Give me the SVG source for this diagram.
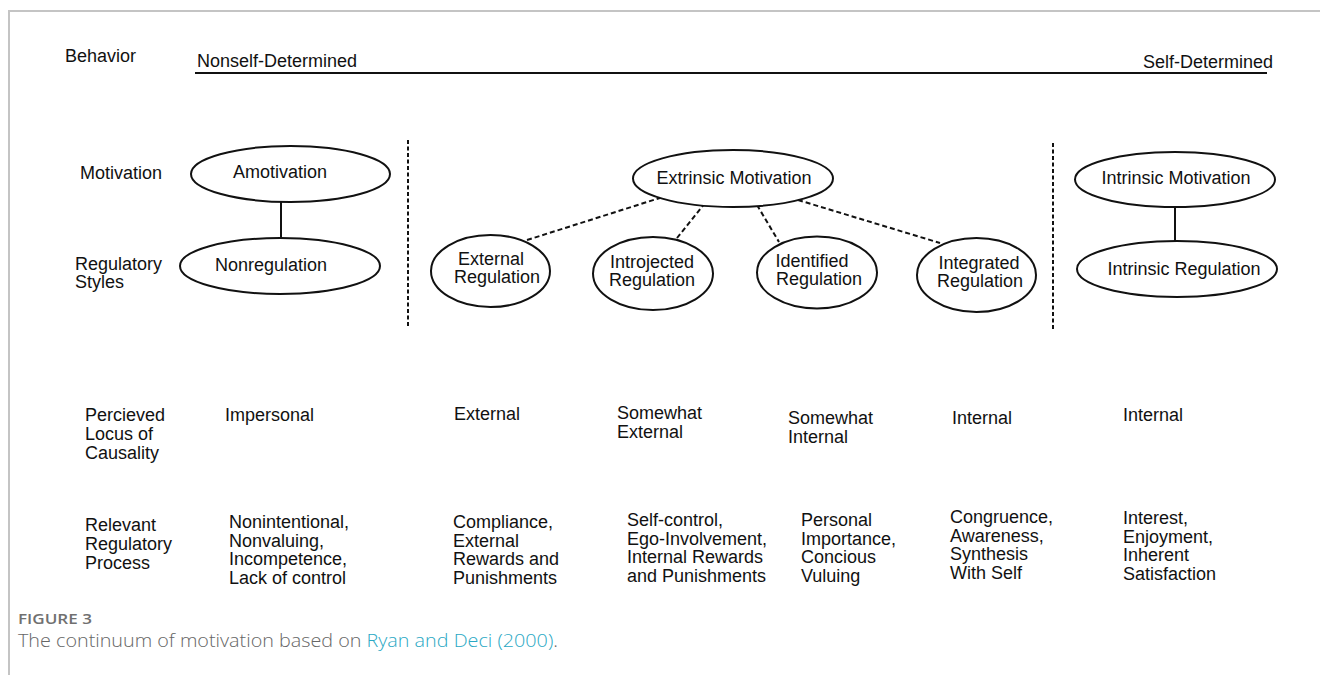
<svg xmlns="http://www.w3.org/2000/svg" width="1320" height="675" viewBox="0 0 1320 675">
<style>
.t{font-family:"Liberation Sans",Arial,sans-serif;font-size:18px;fill:#111}
.c{text-anchor:middle}
.node{fill:#fff;stroke:#111;stroke-width:2}
.solid{stroke:#111;stroke-width:2;fill:none}
.dash{stroke:#111;stroke-width:2;stroke-dasharray:5 3;fill:none}
.vdash{stroke:#111;stroke-width:2;stroke-dasharray:4 2.5;fill:none}
.cap{font-family:"Open Sans",Lato,sans-serif}
</style>
<rect width="1320" height="675" fill="#fff"/>
<path d="M9 675V11H1320" fill="none" stroke="#c4c4c4" stroke-width="2"/>

<g id="axis">
<text class="t" x="65" y="62">Behavior</text>
<text class="t" x="197" y="67">Nonself-Determined</text>
<text class="t" x="1273" y="68" text-anchor="end">Self-Determined</text>
<line class="solid" x1="195" y1="73" x2="1267" y2="73"/>
</g>

<g id="row-labels">
<text class="t" x="80" y="179">Motivation</text>
<text class="t" x="75" y="270">Regulatory<tspan x="75" dy="18">Styles</tspan></text>
<text class="t" x="85" y="421">Percieved<tspan x="85" dy="19">Locus of</tspan><tspan x="85" dy="19">Causality</tspan></text>
<text class="t" x="85" y="531">Relevant<tspan x="85" dy="19">Regulatory</tspan><tspan x="85" dy="19">Process</tspan></text>
</g>

<g id="separators">
<line class="vdash" x1="408" y1="140" x2="408" y2="326"/>
<line class="vdash" x1="1053" y1="143" x2="1053" y2="331"/>
</g>

<g id="connectors">
<line class="solid" x1="281" y1="202" x2="281" y2="238"/>
<line class="solid" x1="1175" y1="207" x2="1175" y2="241"/>
<line class="dash" x1="527" y1="240" x2="663" y2="197"/>
<line class="dash" x1="677" y1="238" x2="705" y2="203"/>
<line class="dash" x1="757" y1="205" x2="779" y2="242"/>
<line class="dash" x1="798" y1="200" x2="940" y2="243"/>
</g>

<g id="amotivation">
<ellipse class="node" cx="290.5" cy="174" rx="99.5" ry="28"/>
<text class="t c" x="280" y="178">Amotivation</text>
</g>
<g id="nonregulation">
<ellipse class="node" cx="280" cy="266" rx="100" ry="28"/>
<text class="t c" x="271" y="271">Nonregulation</text>
</g>
<g id="extrinsic-motivation">
<ellipse class="node" cx="733" cy="178.5" rx="100" ry="28.5"/>
<text class="t c" x="734" y="184">Extrinsic Motivation</text>
</g>
<g id="external-regulation">
<ellipse class="node" cx="490.5" cy="271" rx="59.5" ry="36"/>
<text class="t c" x="491" y="265">External<tspan x="497" dy="18">Regulation</tspan></text>
</g>
<g id="introjected-regulation">
<ellipse class="node" cx="653" cy="273.5" rx="60" ry="36.5"/>
<text class="t c" x="652" y="268">Introjected<tspan x="652" dy="18">Regulation</tspan></text>
</g>
<g id="identified-regulation">
<ellipse class="node" cx="817" cy="272.5" rx="60" ry="36"/>
<text class="t c" x="812" y="267">Identified<tspan x="819" dy="18">Regulation</tspan></text>
</g>
<g id="integrated-regulation">
<ellipse class="node" cx="976.5" cy="275" rx="59.5" ry="37"/>
<text class="t c" x="979" y="269">Integrated<tspan x="980" dy="18">Regulation</tspan></text>
</g>
<g id="intrinsic-motivation">
<ellipse class="node" cx="1175" cy="179.5" rx="100" ry="27.5"/>
<text class="t c" x="1176" y="184">Intrinsic Motivation</text>
</g>
<g id="intrinsic-regulation">
<ellipse class="node" cx="1177" cy="269" rx="100" ry="28"/>
<text class="t c" x="1184" y="275">Intrinsic Regulation</text>
</g>

<g id="locus">
<text class="t" x="225" y="421">Impersonal</text>
<text class="t" x="454" y="420">External</text>
<text class="t" x="617" y="419">Somewhat<tspan x="617" dy="19">External</tspan></text>
<text class="t" x="788" y="424">Somewhat<tspan x="788" dy="19">Internal</tspan></text>
<text class="t" x="952" y="424">Internal</text>
<text class="t" x="1123" y="421">Internal</text>
</g>

<g id="process">
<text class="t" x="229" y="528">Nonintentional,<tspan x="229" dy="18.7">Nonvaluing,</tspan><tspan x="229" dy="18.7">Incompetence,</tspan><tspan x="229" dy="18.7">Lack of control</tspan></text>
<text class="t" x="453" y="528">Compliance,<tspan x="453" dy="18.7">External</tspan><tspan x="453" dy="18.7">Rewards and</tspan><tspan x="453" dy="18.7">Punishments</tspan></text>
<text class="t" x="627" y="526">Self-control,<tspan x="627" dy="18.7">Ego-Involvement,</tspan><tspan x="627" dy="18.7">Internal Rewards</tspan><tspan x="627" dy="18.7">and Punishments</tspan></text>
<text class="t" x="801" y="526">Personal<tspan x="801" dy="18.7">Importance,</tspan><tspan x="801" dy="18.7">Concious</tspan><tspan x="801" dy="18.7">Vuluing</tspan></text>
<text class="t" x="950" y="523">Congruence,<tspan x="950" dy="18.7">Awareness,</tspan><tspan x="950" dy="18.7">Synthesis</tspan><tspan x="950" dy="18.7">With Self</tspan></text>
<text class="t" x="1123" y="524">Interest,<tspan x="1123" dy="18.7">Enjoyment,</tspan><tspan x="1123" dy="18.7">Inherent</tspan><tspan x="1123" dy="18.7">Satisfaction</tspan></text>
</g>

<g id="caption">
<text class="cap" x="18" y="624" font-size="14" font-weight="600" fill="#707070" textLength="74" lengthAdjust="spacingAndGlyphs">FIGURE 3</text>
<text class="cap" x="18" y="647" font-size="18" font-weight="300" fill="#666" textLength="540" lengthAdjust="spacingAndGlyphs">The continuum of motivation based on <tspan fill="#2aa8c4">Ryan and Deci (2000)</tspan>.</text>
</g>
</svg>
